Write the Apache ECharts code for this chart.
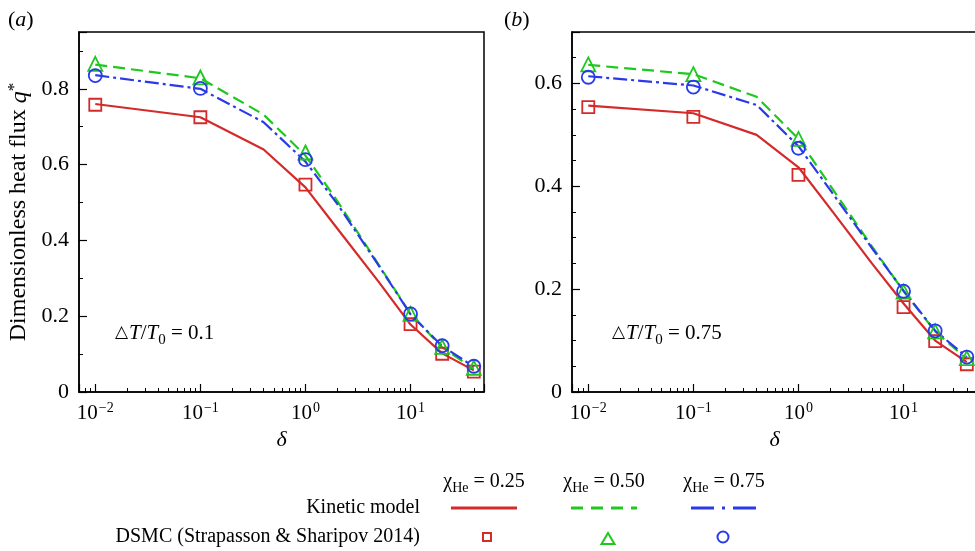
<!DOCTYPE html>
<html><head><meta charset="utf-8">
<script src="https://cdn.jsdelivr.net/npm/echarts@6/dist/echarts.min.js"></script>
<style>html,body{margin:0;padding:0;background:#fff}#c{width:975px;height:551px}</style>
</head><body><div id="c"></div>
<script>
const FONT = "'Liberation Serif','Times New Roman','DejaVu Serif',serif";
// ---- data ----
const deltaKinetic = [0.01, 0.1, 0.4, 1, 2, 5, 10, 20, 40];
const deltaDSMC = [0.01, 0.1, 1, 10, 20, 40];
// panel (a): dT/T0 = 0.1
const kineticA025 = [0.760, 0.725, 0.640, 0.540, 0.432, 0.290, 0.178, 0.102, 0.057];
const kineticA050 = [0.864, 0.828, 0.732, 0.624, 0.505, 0.335, 0.206, 0.118, 0.061];
const kineticA075 = [0.836, 0.800, 0.712, 0.608, 0.497, 0.333, 0.205, 0.121, 0.067];
const dsmcA025 = [0.758, 0.725, 0.547, 0.179, 0.101, 0.054];
const dsmcA050 = [0.866, 0.830, 0.632, 0.206, 0.119, 0.064];
const dsmcA075 = [0.835, 0.801, 0.613, 0.206, 0.122, 0.068];
// panel (b): dT/T0 = 0.75
const kineticB025 = [0.557, 0.542, 0.500, 0.437, 0.357, 0.250, 0.172, 0.100, 0.058];
const kineticB050 = [0.636, 0.618, 0.574, 0.492, 0.402, 0.283, 0.196, 0.118, 0.064];
const kineticB075 = [0.614, 0.596, 0.558, 0.478, 0.393, 0.280, 0.197, 0.119, 0.068];
const dsmcB025 = [0.554, 0.535, 0.422, 0.165, 0.099, 0.054];
const dsmcB050 = [0.637, 0.618, 0.492, 0.195, 0.118, 0.066];
const dsmcB075 = [0.612, 0.593, 0.474, 0.196, 0.119, 0.068];
const chiLabels = ['0.25', '0.50', '0.75'];
const panelLabels = ['a', 'b'];
const ratioLabels = ['0.1', '0.75'];
const yMaxes = [0.95, 0.7];
const yMinorSplits = [2, 4];
const xMin = 0.007, xMax = 50;

const RED = '#d42a2a', GREEN = '#1ec81e', BLUE = '#2a3ae8';
const colors = [RED, GREEN, BLUE];
const dashTypes = ['solid', [12, 6], [14, 4, 3, 4]];
const symbols = ['rect', 'triangle', 'circle'];
const symbolSizes = [12, 14, 13];

const kineticSets = [[kineticA025, kineticA050, kineticA075], [kineticB025, kineticB050, kineticB075]];
const dsmcSets = [[dsmcA025, dsmcA050, dsmcA075], [dsmcB025, dsmcB050, dsmcB075]];

const chart = echarts.init(document.getElementById('c'), null, {renderer: 'canvas'});

const grids = [
  {left: 79, top: 32, width: 405, height: 360},
  {left: 572, top: 32, width: 405, height: 360}
];

function xLabel(v) {
  const l = Math.log10(v);
  const e = Math.round(l);
  if (Math.abs(l - e) > 1e-6) return '';
  return '{b|10}{s|' + (e < 0 ? '\u2212' + (-e) : e) + '}';
}

const xAxes = grids.map((g, i) => ({
  type: 'log', logBase: 10, gridIndex: i, min: xMin, max: xMax,
  axisLine: {show: true, onZero: false, lineStyle: {color: '#000', width: 1.5}},
  axisTick: {show: true, inside: true, length: 8, lineStyle: {color: '#000', width: 1.2}},
  minorTick: {show: true, splitNumber: 9, length: 4, lineStyle: {color: '#000', width: 1}},
  splitLine: {show: false}, minorSplitLine: {show: false},
  axisLabel: {
    formatter: xLabel, margin: 9, color: '#000',
    rich: {
      b: {fontFamily: FONT, fontSize: 21, color: '#000', verticalAlign: 'bottom'},
      s: {fontFamily: FONT, fontSize: 14, color: '#000', verticalAlign: 'bottom', padding: [0, 0, 9, 1]}
    }
  },
  name: '\u03B4', nameLocation: 'middle', nameGap: 36,
  nameTextStyle: {fontFamily: FONT, fontStyle: 'italic', fontSize: 22, color: '#000'}
}));

const yAxes = grids.map((g, i) => ({
  type: 'value', gridIndex: i, min: 0, max: yMaxes[i], interval: 0.2,
  axisLine: {show: true, onZero: false, lineStyle: {color: '#000', width: 1.5}},
  axisTick: {show: true, inside: true, length: 8, lineStyle: {color: '#000', width: 1.2}},
  minorTick: {show: true, splitNumber: yMinorSplits[i], length: 4, lineStyle: {color: '#000', width: 1}},
  splitLine: {show: false}, minorSplitLine: {show: false},
  axisLabel: {
    margin: 10, color: '#000', fontFamily: FONT, fontSize: 22,
    formatter: v => {
      const r = Math.round(v * 5) / 5;
      if (Math.abs(v - r) > 1e-9) return '';
      return r === 0 ? '0' : r.toFixed(1);
    }
  },
  name: i === 0 ? 'Dimensionless heat flux {i|q}{s|*}' : '',
  nameLocation: 'middle', nameGap: 47, nameRotate: 90,
  nameTextStyle: {
    fontFamily: FONT, fontSize: 24, color: '#000',
    rich: {
      i: {fontFamily: FONT, fontSize: 24, fontStyle: 'italic', color: '#000', verticalAlign: 'bottom'},
      s: {fontFamily: FONT, fontSize: 17, color: '#000', verticalAlign: 'bottom', padding: [0, 0, 9, 0]}
    }
  }
}));

const series = [];
for (let p = 0; p < 2; p++) {
  for (let k = 0; k < 3; k++) {
    series.push({
      type: 'line', xAxisIndex: p, yAxisIndex: p, symbol: 'none', showSymbol: false,
      data: deltaKinetic.map((d, j) => [d, kineticSets[p][k][j]]),
      lineStyle: {color: colors[k], width: 2.2, type: dashTypes[k]}, z: 2 + k * 0.1, animation: false
    });
  }
  for (let k = 0; k < 3; k++) {
    series.push({
      type: 'scatter', xAxisIndex: p, yAxisIndex: p, symbol: symbols[k], symbolSize: symbolSizes[k],
      data: deltaDSMC.map((d, j) => [d, dsmcSets[p][k][j]]),
      itemStyle: {color: 'rgba(255,255,255,0)', borderColor: colors[k], borderWidth: 1.8, opacity: 1},
      z: 5, animation: false
    });
  }
}

const txt = (extra) => Object.assign({fill: '#000', fontFamily: FONT}, extra);
const graphic = [];
// panel labels
panelLabels.forEach((l, i) => {
  graphic.push({type: 'text', x: i === 0 ? 8 : 504, y: 20,
    style: txt({text: '({i|' + l + '})', fontSize: 22, verticalAlign: 'middle',
      rich: {i: {fontFamily: FONT, fontSize: 22, fontStyle: 'italic'}}})});
});
// ratio annotations
ratioLabels.forEach((r, i) => {
  graphic.push({type: 'text', x: i === 0 ? 115 : 612, y: 333,
    style: txt({text: '{t|\u25B3}{i|T}/{i|T}{sub|0} = ' + r, fontSize: 21, verticalAlign: 'middle',
      rich: {
        t: {fontFamily: "'DejaVu Serif',serif", fontSize: 17, verticalAlign: 'bottom', padding: [0, 1, 2, 0]},
        i: {fontFamily: FONT, fontSize: 21, fontStyle: 'italic', verticalAlign: 'bottom'},
        sub: {fontFamily: FONT, fontSize: 15, verticalAlign: 'bottom', padding: [0, 0, -4, 0]}
      }})});
});
// legend
const colCenters = [484, 604, 724];
chiLabels.forEach((c, k) => {
  graphic.push({type: 'text', x: colCenters[k], y: 482,
    style: txt({text: '{c|\u03C7}{sub|He} = ' + c, fontSize: 20, align: 'center', verticalAlign: 'middle',
      rich: {
        c: {fontFamily: FONT, fontSize: 20, verticalAlign: 'bottom'},
        sub: {fontFamily: FONT, fontSize: 14, verticalAlign: 'bottom', padding: [0, 0, -3, 0]}
      }})});
});
graphic.push({type: 'text', x: 420, y: 508, style: txt({text: 'Kinetic model', fontSize: 20, align: 'right', verticalAlign: 'middle'})});
graphic.push({type: 'text', x: 420, y: 537, style: txt({text: 'DSMC (Strapasson & Sharipov 2014)', fontSize: 20, align: 'right', verticalAlign: 'middle'})});
const legendDash = [null, [12, 8], [23, 8, 3, 8]];
colCenters.forEach((cx, k) => {
  graphic.push({type: 'line', shape: {x1: cx - 33, y1: 508, x2: cx + 33, y2: 508},
    style: {stroke: colors[k], lineWidth: 3, lineDash: legendDash[k]}});
});
graphic.push({type: 'rect', shape: {x: 487 - 4, y: 537 - 4, width: 8, height: 8},
  style: {stroke: RED, lineWidth: 2, fill: 'none'}});
graphic.push({type: 'polygon', shape: {points: [[608, 533], [614.5, 544], [601.5, 544]]},
  style: {stroke: GREEN, lineWidth: 2, fill: 'none'}});
graphic.push({type: 'circle', shape: {cx: 723, cy: 537, r: 5.5},
  style: {stroke: BLUE, lineWidth: 2, fill: 'none'}});

chart.setOption({
  animation: false,
  backgroundColor: '#fff',
  grid: grids.map(g => Object.assign({show: true, borderColor: '#000', borderWidth: 1.5, backgroundColor: 'transparent', containLabel: false, outerBoundsMode: 'none'}, g)),
  xAxis: xAxes,
  yAxis: yAxes,
  series: series,
  graphic: graphic
});
</script></body></html>
